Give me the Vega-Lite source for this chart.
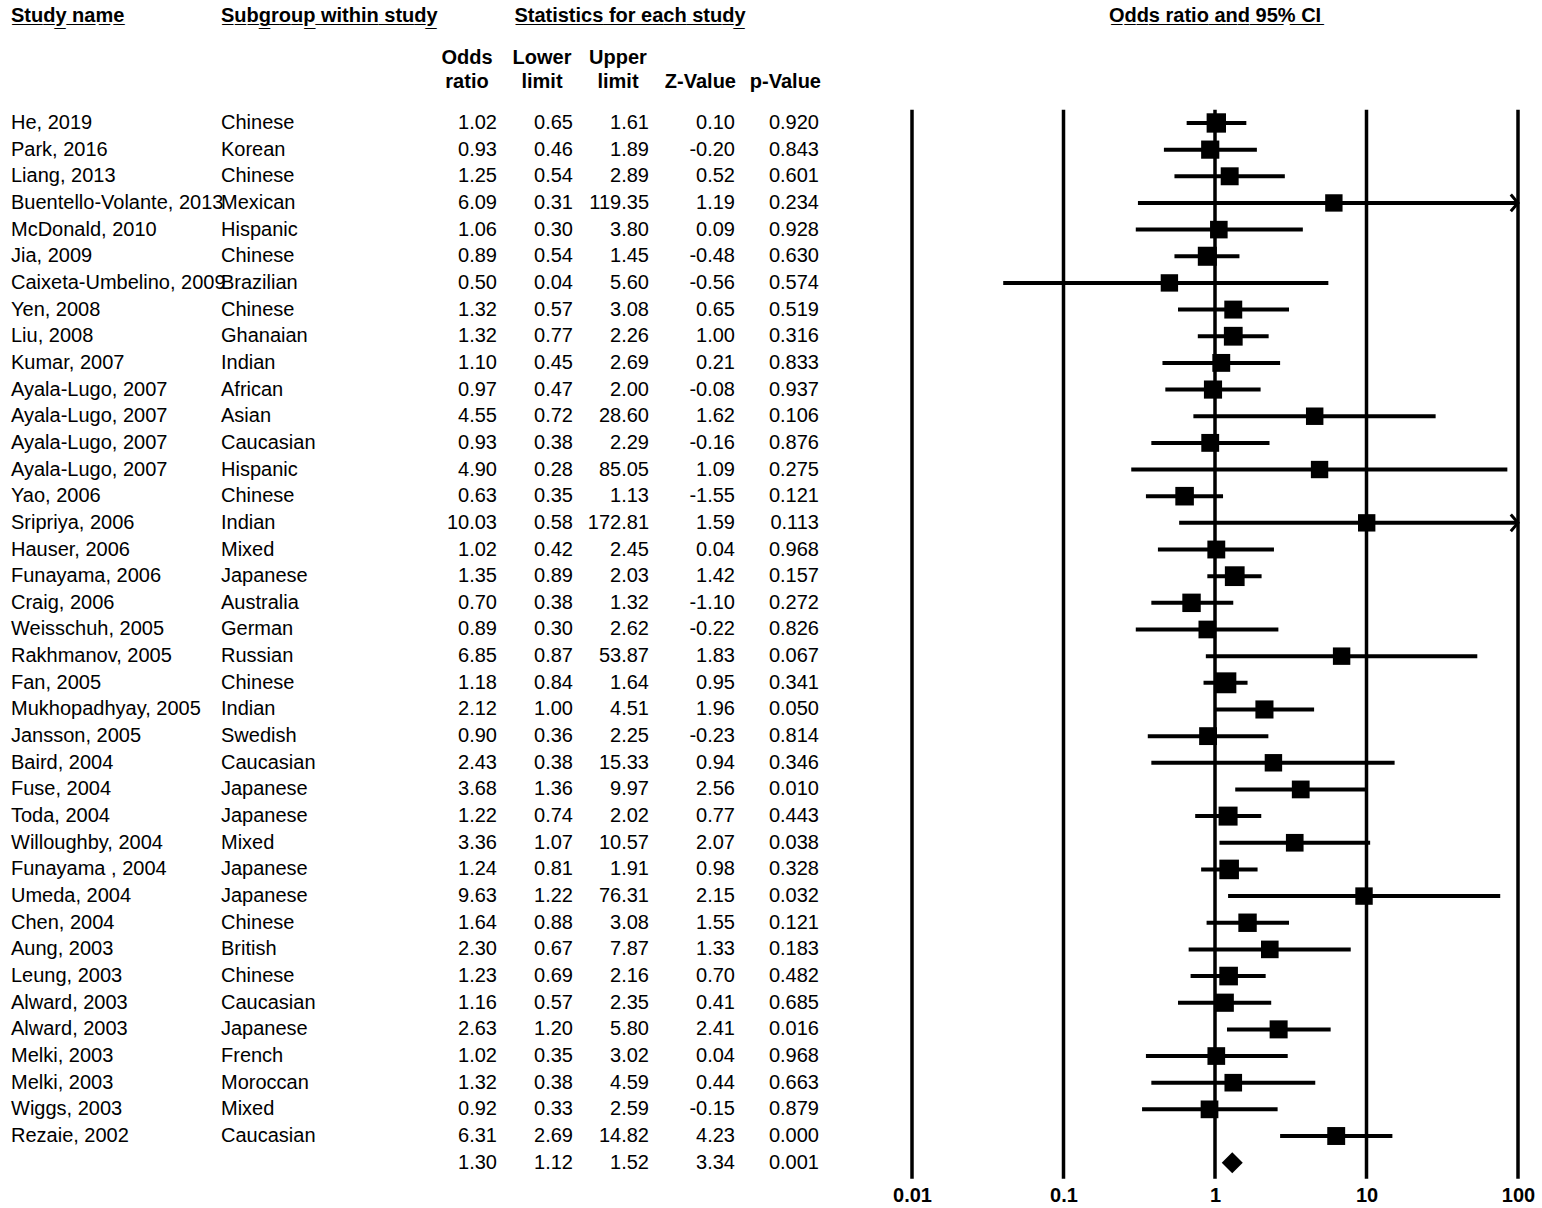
{
 "$schema": "https://vega.github.io/schema/vega-lite/v6.json",
 "padding": {"left": 0, "top": 3, "right": 0, "bottom": 0},
 "background": "white",
 "bounds": "flush",
 "config": {
  "view": {"stroke": null},
  "locale": {"number": {"decimal": ".", "thousands": ",", "grouping": [3], "currency": ["$", ""], "minus": "-"}}
 },
 "datasets": {
  "studies": [
   {"i": 1, "study": "He, 2019", "sub": "Chinese", "or": 1.02, "lo": 0.65, "hi": 1.61, "z": 0.10, "p": 0.920, "w": 18.7},
   {"i": 2, "study": "Park, 2016", "sub": "Korean", "or": 0.93, "lo": 0.46, "hi": 1.89, "z": -0.20, "p": 0.843, "w": 7.7},
   {"i": 3, "study": "Liang, 2013", "sub": "Chinese", "or": 1.25, "lo": 0.54, "hi": 2.89, "z": 0.52, "p": 0.601, "w": 5.5},
   {"i": 4, "study": "Buentello-Volante, 2013", "sub": "Mexican", "or": 6.09, "lo": 0.31, "hi": 119.35, "z": 1.19, "p": 0.234, "w": 0.43},
   {"i": 5, "study": "McDonald, 2010", "sub": "Hispanic", "or": 1.06, "lo": 0.30, "hi": 3.80, "z": 0.09, "p": 0.928, "w": 2.4},
   {"i": 6, "study": "Jia, 2009", "sub": "Chinese", "or": 0.89, "lo": 0.54, "hi": 1.45, "z": -0.48, "p": 0.630, "w": 15.7},
   {"i": 7, "study": "Caixeta-Umbelino, 2009", "sub": "Brazilian", "or": 0.50, "lo": 0.04, "hi": 5.60, "z": -0.56, "p": 0.574, "w": 0.63},
   {"i": 8, "study": "Yen, 2008", "sub": "Chinese", "or": 1.32, "lo": 0.57, "hi": 3.08, "z": 0.65, "p": 0.519, "w": 5.4},
   {"i": 9, "study": "Liu, 2008", "sub": "Ghanaian", "or": 1.32, "lo": 0.77, "hi": 2.26, "z": 1.00, "p": 0.316, "w": 13.2},
   {"i": 10, "study": "Kumar, 2007", "sub": "Indian", "or": 1.10, "lo": 0.45, "hi": 2.69, "z": 0.21, "p": 0.833, "w": 4.8},
   {"i": 11, "study": "Ayala-Lugo, 2007", "sub": "African", "or": 0.97, "lo": 0.47, "hi": 2.00, "z": -0.08, "p": 0.937, "w": 7.3},
   {"i": 12, "study": "Ayala-Lugo, 2007", "sub": "Asian", "or": 4.55, "lo": 0.72, "hi": 28.60, "z": 1.62, "p": 0.106, "w": 1.13},
   {"i": 13, "study": "Ayala-Lugo, 2007", "sub": "Caucasian", "or": 0.93, "lo": 0.38, "hi": 2.29, "z": -0.16, "p": 0.876, "w": 4.8},
   {"i": 14, "study": "Ayala-Lugo, 2007", "sub": "Hispanic", "or": 4.90, "lo": 0.28, "hi": 85.05, "z": 1.09, "p": 0.275, "w": 0.47},
   {"i": 15, "study": "Yao, 2006", "sub": "Chinese", "or": 0.63, "lo": 0.35, "hi": 1.13, "z": -1.55, "p": 0.121, "w": 11.2},
   {"i": 16, "study": "Sripriya, 2006", "sub": "Indian", "or": 10.03, "lo": 0.58, "hi": 172.81, "z": 1.59, "p": 0.113, "w": 0.47},
   {"i": 17, "study": "Hauser, 2006", "sub": "Mixed", "or": 1.02, "lo": 0.42, "hi": 2.45, "z": 0.04, "p": 0.968, "w": 4.9},
   {"i": 18, "study": "Funayama, 2006", "sub": "Japanese", "or": 1.35, "lo": 0.89, "hi": 2.03, "z": 1.42, "p": 0.157, "w": 22.6},
   {"i": 19, "study": "Craig, 2006", "sub": "Australia", "or": 0.70, "lo": 0.38, "hi": 1.32, "z": -1.10, "p": 0.272, "w": 9.9},
   {"i": 20, "study": "Weisschuh, 2005", "sub": "German", "or": 0.89, "lo": 0.30, "hi": 2.62, "z": -0.22, "p": 0.826, "w": 3.3},
   {"i": 21, "study": "Rakhmanov, 2005", "sub": "Russian", "or": 6.85, "lo": 0.87, "hi": 53.87, "z": 1.83, "p": 0.067, "w": 0.9},
   {"i": 22, "study": "Fan, 2005", "sub": "Chinese", "or": 1.18, "lo": 0.84, "hi": 1.64, "z": 0.95, "p": 0.341, "w": 34.3},
   {"i": 23, "study": "Mukhopadhyay, 2005", "sub": "Indian", "or": 2.12, "lo": 1.00, "hi": 4.51, "z": 1.96, "p": 0.050, "w": 6.8},
   {"i": 24, "study": "Jansson, 2005", "sub": "Swedish", "or": 0.90, "lo": 0.36, "hi": 2.25, "z": -0.23, "p": 0.814, "w": 4.6},
   {"i": 25, "study": "Baird, 2004", "sub": "Caucasian", "or": 2.43, "lo": 0.38, "hi": 15.33, "z": 0.94, "p": 0.346, "w": 1.12},
   {"i": 26, "study": "Fuse, 2004", "sub": "Japanese", "or": 3.68, "lo": 1.36, "hi": 9.97, "z": 2.56, "p": 0.010, "w": 3.9},
   {"i": 27, "study": "Toda, 2004", "sub": "Japanese", "or": 1.22, "lo": 0.74, "hi": 2.02, "z": 0.77, "p": 0.443, "w": 15.2},
   {"i": 28, "study": "Willoughby, 2004", "sub": "Mixed", "or": 3.36, "lo": 1.07, "hi": 10.57, "z": 2.07, "p": 0.038, "w": 2.9},
   {"i": 29, "study": "Funayama , 2004", "sub": "Japanese", "or": 1.24, "lo": 0.81, "hi": 1.91, "z": 0.98, "p": 0.328, "w": 20.9},
   {"i": 30, "study": "Umeda, 2004", "sub": "Japanese", "or": 9.63, "lo": 1.22, "hi": 76.31, "z": 2.15, "p": 0.032, "w": 0.9},
   {"i": 31, "study": "Chen, 2004", "sub": "Chinese", "or": 1.64, "lo": 0.88, "hi": 3.08, "z": 1.55, "p": 0.121, "w": 9.8},
   {"i": 32, "study": "Aung, 2003", "sub": "British", "or": 2.30, "lo": 0.67, "hi": 7.87, "z": 1.33, "p": 0.183, "w": 2.5},
   {"i": 33, "study": "Leung, 2003", "sub": "Chinese", "or": 1.23, "lo": 0.69, "hi": 2.16, "z": 0.70, "p": 0.482, "w": 11.8},
   {"i": 34, "study": "Alward, 2003", "sub": "Caucasian", "or": 1.16, "lo": 0.57, "hi": 2.35, "z": 0.41, "p": 0.685, "w": 7.7},
   {"i": 35, "study": "Alward, 2003", "sub": "Japanese", "or": 2.63, "lo": 1.20, "hi": 5.80, "z": 2.41, "p": 0.016, "w": 6.2},
   {"i": 36, "study": "Melki, 2003", "sub": "French", "or": 1.02, "lo": 0.35, "hi": 3.02, "z": 0.04, "p": 0.968, "w": 3.3},
   {"i": 37, "study": "Melki, 2003", "sub": "Moroccan", "or": 1.32, "lo": 0.38, "hi": 4.59, "z": 0.44, "p": 0.663, "w": 2.5},
   {"i": 38, "study": "Wiggs, 2003", "sub": "Mixed", "or": 0.92, "lo": 0.33, "hi": 2.59, "z": -0.15, "p": 0.879, "w": 3.6},
   {"i": 39, "study": "Rezaie, 2002", "sub": "Caucasian", "or": 6.31, "lo": 2.69, "hi": 14.82, "z": 4.23, "p": 0.000, "w": 5.3},
   {"i": 40, "study": "", "sub": "", "or": 1.30, "lo": 1.12, "hi": 1.52, "z": 3.34, "p": 0.001}
  ]
 },
 "spacing": 52,
 "hconcat": [
  {
   "width": 860,
   "height": 1173,
   "data": {"name": "studies"},
   "layer": [
    {"mark": {"type": "text", "align": "left", "baseline": "middle", "font": "Liberation Sans", "fontSize": 20, "color": "black"},
     "encoding": {
      "x": {"datum": 0, "type": "quantitative", "scale": {"domain": [0, 1, 2, 3, 4, 5, 6], "range": [11, 221, 497, 573, 649, 735, 819], "nice": false, "zero": false}, "axis": null},
      "y": {"field": "i", "type": "quantitative", "scale": {"domain": [-3.5, 40.5], "reverse": true, "nice": false, "zero": false}, "axis": null},
      "text": {"field": "study"}}},
    {"mark": {"type": "text", "align": "left", "baseline": "middle", "font": "Liberation Sans", "fontSize": 20, "color": "black"},
     "encoding": {"x": {"datum": 1, "type": "quantitative"}, "y": {"field": "i", "type": "quantitative"}, "text": {"field": "sub"}}},
    {"mark": {"type": "text", "align": "right", "baseline": "middle", "font": "Liberation Sans", "fontSize": 20, "color": "black"},
     "encoding": {"x": {"datum": 2, "type": "quantitative"}, "y": {"field": "i", "type": "quantitative"}, "text": {"field": "or", "type": "quantitative", "format": ".2f"}}},
    {"mark": {"type": "text", "align": "right", "baseline": "middle", "font": "Liberation Sans", "fontSize": 20, "color": "black"},
     "encoding": {"x": {"datum": 3, "type": "quantitative"}, "y": {"field": "i", "type": "quantitative"}, "text": {"field": "lo", "type": "quantitative", "format": ".2f"}}},
    {"mark": {"type": "text", "align": "right", "baseline": "middle", "font": "Liberation Sans", "fontSize": 20, "color": "black"},
     "encoding": {"x": {"datum": 4, "type": "quantitative"}, "y": {"field": "i", "type": "quantitative"}, "text": {"field": "hi", "type": "quantitative", "format": ".2f"}}},
    {"mark": {"type": "text", "align": "right", "baseline": "middle", "font": "Liberation Sans", "fontSize": 20, "color": "black"},
     "encoding": {"x": {"datum": 5, "type": "quantitative"}, "y": {"field": "i", "type": "quantitative"}, "text": {"field": "z", "type": "quantitative", "format": ".2f"}}},
    {"mark": {"type": "text", "align": "right", "baseline": "middle", "font": "Liberation Sans", "fontSize": 20, "color": "black"},
     "encoding": {"x": {"datum": 6, "type": "quantitative"}, "y": {"field": "i", "type": "quantitative"}, "text": {"field": "p", "type": "quantitative", "format": ".3f"}}},
    {"data": {"values": [{}]},
     "mark": {"type": "text", "align": "left", "baseline": "middle", "font": "Liberation Sans", "fontSize": 20, "fontWeight": "bold", "color": "black"},
     "encoding": {"x": {"datum": 0, "type": "quantitative"}, "y": {"datum": -3, "type": "quantitative"}, "text": {"value": "S\u0332t\u0332u\u0332d\u0332y\u0332 \u0332n\u0332a\u0332m\u0332e\u0332"}}},
    {"data": {"values": [{}]},
     "mark": {"type": "text", "align": "left", "baseline": "middle", "font": "Liberation Sans", "fontSize": 20, "fontWeight": "bold", "color": "black"},
     "encoding": {"x": {"datum": 1, "type": "quantitative"}, "y": {"datum": -3, "type": "quantitative"}, "text": {"value": "S\u0332u\u0332b\u0332g\u0332r\u0332o\u0332u\u0332p\u0332 \u0332w\u0332i\u0332t\u0332h\u0332i\u0332n\u0332 \u0332s\u0332t\u0332u\u0332d\u0332y\u0332"}}},
    {"data": {"values": [{}]},
     "mark": {"type": "text", "align": "center", "baseline": "middle", "font": "Liberation Sans", "fontSize": 20, "fontWeight": "bold", "color": "black", "dx": -19},
     "encoding": {"x": {"datum": 4, "type": "quantitative"}, "y": {"datum": -3, "type": "quantitative"}, "text": {"value": "S\u0332t\u0332a\u0332t\u0332i\u0332s\u0332t\u0332i\u0332c\u0332s\u0332 \u0332f\u0332o\u0332r\u0332 \u0332e\u0332a\u0332c\u0332h\u0332 \u0332s\u0332t\u0332u\u0332d\u0332y\u0332"}}},
    {"data": {"values": [{}]},
     "mark": {"type": "text", "align": "center", "baseline": "middle", "font": "Liberation Sans", "fontSize": 20, "fontWeight": "bold", "color": "black", "dx": -30, "dy": -12, "lineBreak": "\n", "lineHeight": 24},
     "encoding": {"x": {"datum": 2, "type": "quantitative"}, "y": {"datum": -1, "type": "quantitative"}, "text": {"value": "Odds\nratio"}}},
    {"data": {"values": [{}]},
     "mark": {"type": "text", "align": "center", "baseline": "middle", "font": "Liberation Sans", "fontSize": 20, "fontWeight": "bold", "color": "black", "dx": -31, "dy": -12, "lineBreak": "\n", "lineHeight": 24},
     "encoding": {"x": {"datum": 3, "type": "quantitative"}, "y": {"datum": -1, "type": "quantitative"}, "text": {"value": "Lower\nlimit"}}},
    {"data": {"values": [{}]},
     "mark": {"type": "text", "align": "center", "baseline": "middle", "font": "Liberation Sans", "fontSize": 20, "fontWeight": "bold", "color": "black", "dx": -31, "dy": -12, "lineBreak": "\n", "lineHeight": 24},
     "encoding": {"x": {"datum": 4, "type": "quantitative"}, "y": {"datum": -1, "type": "quantitative"}, "text": {"value": "Upper\nlimit"}}},
    {"data": {"values": [{}]},
     "mark": {"type": "text", "align": "right", "baseline": "middle", "font": "Liberation Sans", "fontSize": 20, "fontWeight": "bold", "color": "black", "dx": 1, "dy": -12, "lineBreak": "\n", "lineHeight": 24},
     "encoding": {"x": {"datum": 5, "type": "quantitative"}, "y": {"datum": -1, "type": "quantitative"}, "text": {"value": "\nZ-Value"}}},
    {"data": {"values": [{}]},
     "mark": {"type": "text", "align": "right", "baseline": "middle", "font": "Liberation Sans", "fontSize": 20, "fontWeight": "bold", "color": "black", "dx": 2, "dy": -12, "lineBreak": "\n", "lineHeight": 24},
     "encoding": {"x": {"datum": 6, "type": "quantitative"}, "y": {"datum": -1, "type": "quantitative"}, "text": {"value": "\np-Value"}}}
   ]
  },
  {
   "width": 606,
   "height": 1173,
   "data": {"name": "studies"},
   "layer": [
    {"data": {"values": [{"v": 0.01}, {"v": 0.1}, {"v": 1}, {"v": 10}, {"v": 100}]},
     "mark": {"type": "rule", "strokeWidth": 3.5, "color": "black"},
     "encoding": {
      "x": {"field": "v", "type": "quantitative",
            "scale": {"type": "log", "domain": [0.01, 100], "clamp": true, "nice": false},
            "axis": {"values": [0.01, 0.1, 1, 10, 100], "format": "~g", "orient": "bottom", "domain": false, "ticks": false, "grid": false,
                     "labelFont": "Liberation Sans", "labelFontWeight": "bold", "labelFontSize": 20, "labelColor": "black",
                     "labelPadding": 9, "title": null, "labelFlush": false, "labelOverlap": false}},
      "y": {"datum": 0.5, "type": "quantitative", "scale": {"domain": [-3.5, 40.5], "reverse": true, "nice": false, "zero": false}, "axis": null},
      "y2": {"datum": 40.6}
     }},
    {"transform": [{"filter": "datum.i < 40"}],
     "mark": {"type": "rule", "strokeWidth": 4, "color": "black"},
     "encoding": {"x": {"field": "lo", "type": "quantitative"}, "x2": {"field": "hi"}, "y": {"field": "i", "type": "quantitative"}}},
    {"transform": [{"filter": "datum.i < 40"}],
     "mark": {"type": "point", "shape": "square", "filled": true, "opacity": 1, "color": "black"},
     "encoding": {"x": {"field": "or", "type": "quantitative"}, "y": {"field": "i", "type": "quantitative"},
                  "size": {"field": "w", "type": "quantitative", "scale": {"domain": [0, 35], "range": [300, 440]}, "legend": null}}},
    {"transform": [{"filter": "datum.hi > 100"}],
     "mark": {"type": "point", "shape": "M-1.2,-1.4L0,0L-1.2,1.4", "filled": false, "strokeWidth": 3, "size": 144, "opacity": 1, "color": "black"},
     "encoding": {"x": {"field": "hi", "type": "quantitative"}, "y": {"field": "i", "type": "quantitative"}}},
    {"transform": [{"filter": "datum.i == 40"}],
     "mark": {"type": "point", "shape": "diamond", "filled": true, "size": 441, "opacity": 1, "color": "black"},
     "encoding": {"x": {"field": "or", "type": "quantitative"}, "y": {"field": "i", "type": "quantitative"}}},
    {"data": {"values": [{}]},
     "mark": {"type": "text", "align": "center", "baseline": "middle", "font": "Liberation Sans", "fontSize": 20, "fontWeight": "bold", "color": "black"},
     "encoding": {"x": {"datum": 1, "type": "quantitative"}, "y": {"datum": -3, "type": "quantitative"}, "text": {"value": "O\u0332d\u0332d\u0332s\u0332 \u0332r\u0332a\u0332t\u0332i\u0332o\u0332 \u0332a\u0332n\u0332d\u0332 \u03329\u03325\u0332%\u0332 \u0332C\u0332I\u0332"}}}
   ]
  }
 ]
}
